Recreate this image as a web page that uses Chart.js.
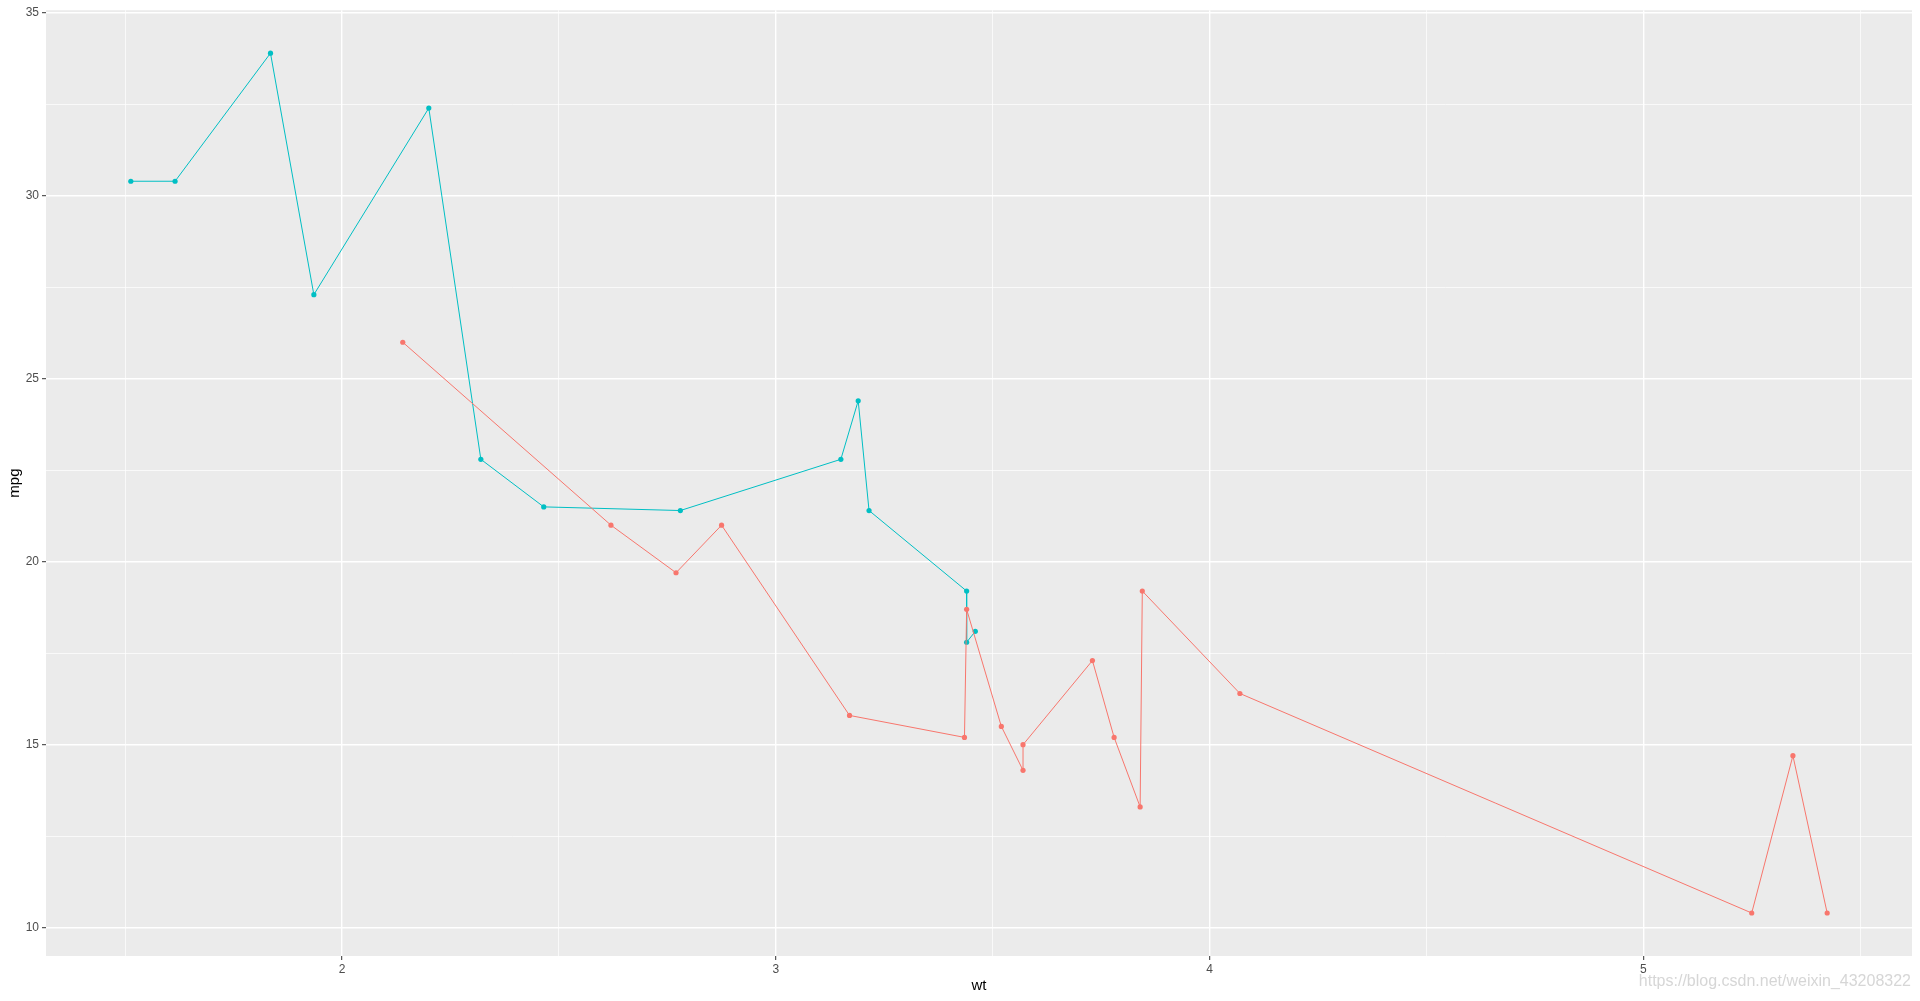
<!DOCTYPE html>
<html>
<head>
<meta charset="utf-8">
<script src="https://cdn.jsdelivr.net/npm/chart.js@4.4.1/dist/chart.umd.min.js"></script>
<style>
  body { margin: 0; background: #fff; overflow: hidden; }
  #wrap { position: relative; width: 1920px; height: 1001px; }
  #mark {
    position: absolute; right: 9px; bottom: 11px;
    font-family: "Liberation Sans", Arial, sans-serif; font-size: 16px;
    color: rgba(212, 212, 212, 0.95);
  }
</style>
</head>
<body>
<div id="wrap">
  <canvas id="plot" width="1920" height="1001"></canvas>
  <div id="mark">https://blog.csdn.net/weixin_43208322</div>
</div>
<script>
// Data (mtcars, sorted by wt within each vs group)
//==============================
var wtVs0 = [2.140, 2.620, 2.770, 2.875, 3.170, 3.435, 3.440, 3.520, 3.570, 3.570, 3.730, 3.780, 3.840, 3.845, 4.070, 5.250, 5.345, 5.424];
var mpgVs0 = [26.0, 21.0, 19.7, 21.0, 15.8, 15.2, 18.7, 15.5, 14.3, 15.0, 17.3, 15.2, 13.3, 19.2, 16.4, 10.4, 14.7, 10.4];
var wtVs1 = [1.513, 1.615, 1.835, 1.935, 2.200, 2.320, 2.465, 2.780, 3.150, 3.190, 3.215, 3.440, 3.440, 3.460];
var mpgVs1 = [30.4, 30.4, 33.9, 27.3, 32.4, 22.8, 21.5, 21.4, 22.8, 24.4, 21.4, 19.2, 17.8, 18.1];

var xMajor = [2, 3, 4, 5];
var xMinor = [1.5, 2.5, 3.5, 4.5, 5.5];
var yMajor = [10, 15, 20, 25, 30, 35];
var yMinor = [12.5, 17.5, 22.5, 27.5, 32.5];

function toPoints(xs, ys) {
  return xs.map(function (x, i) { return { x: x, y: ys[i] }; });
}

function tickList(major, minor) {
  return major.concat(minor).sort(function (a, b) { return a - b; })
    .map(function (v) { return { value: v }; });
}

// ggplot-style 5% expansion
var xLo = Math.min.apply(null, wtVs1), xHi = Math.max.apply(null, wtVs0);
var yLo = Math.min.apply(null, mpgVs0), yHi = Math.max.apply(null, mpgVs1);
var xPad = (xHi - xLo) * 0.05, yPad = (yHi - yLo) * 0.05;

// Plugins
//==============================
var panelBg = {
  id: "panelBg",
  beforeDraw: function (chart) {
    var a = chart.chartArea, ctx = chart.ctx;
    ctx.save();
    ctx.fillStyle = "#EBEBEB";
    ctx.fillRect(a.left, a.top, a.right - a.left, a.bottom - a.top);
    ctx.restore();
  }
};

function gridWidth(major) {
  return function (c) { return c.tick && major.indexOf(c.tick.value) > -1 ? 1.4 : 0.7; };
}
function tickColor(major) {
  return function (c) { return c.tick && major.indexOf(c.tick.value) > -1 ? "#333333" : "rgba(0,0,0,0)"; };
}

var tickFont = { family: "'Liberation Sans', Arial, sans-serif", size: 12 };
var titleFont = { family: "'Liberation Sans', Arial, sans-serif", size: 15 };

// Chart
//==============================
var ctx = document.getElementById("plot");
var mtChart = new Chart(ctx, {
  type: "line",
  data: {
    datasets: [{
      label: "0",
      data: toPoints(wtVs0, mpgVs0),
      borderColor: "#F8766D",
      backgroundColor: "#F8766D",
      borderWidth: 1,
      pointRadius: 2.6,
      pointBorderWidth: 0,
      tension: 0
    }, {
      label: "1",
      data: toPoints(wtVs1, mpgVs1),
      borderColor: "#00BFC4",
      backgroundColor: "#00BFC4",
      borderWidth: 1,
      pointRadius: 2.6,
      pointBorderWidth: 0,
      tension: 0
    }]
  },
  options: {
    responsive: false,
    animation: false,
    layout: { padding: { top: 7, right: 8, left: 0, bottom: 0 } },
    plugins: {
      legend: { display: false },
      tooltip: { enabled: false }
    },
    scales: {
      x: {
        type: "linear",
        min: xLo - xPad,
        max: xHi + xPad,
        afterBuildTicks: function (s) { s.ticks = tickList(xMajor, xMinor); },
        afterFit: function (s) { s.height = 45; },
        border: { display: false },
        grid: {
          color: "#FFFFFF",
          lineWidth: gridWidth(xMajor),
          drawTicks: true,
          tickLength: 4,
          tickWidth: 1,
          tickColor: tickColor(xMajor)
        },
        ticks: {
          autoSkip: false,
          maxRotation: 0,
          padding: 2,
          color: "#4D4D4D",
          font: tickFont,
          callback: function (v) { return xMajor.indexOf(v) > -1 ? v : ""; }
        },
        title: {
          display: true,
          text: "wt",
          color: "#000000",
          font: titleFont,
          padding: { top: 0, bottom: 6 }
        }
      },
      y: {
        type: "linear",
        min: yLo - yPad,
        max: yHi + yPad,
        afterBuildTicks: function (s) { s.ticks = tickList(yMajor, yMinor); },
        afterFit: function (s) { s.width = 46; },
        border: { display: false },
        grid: {
          color: "#FFFFFF",
          lineWidth: gridWidth(yMajor),
          drawTicks: true,
          tickLength: 4,
          tickWidth: 1,
          tickColor: tickColor(yMajor)
        },
        ticks: {
          autoSkip: false,
          padding: 3,
          color: "#4D4D4D",
          font: tickFont,
          callback: function (v) { return yMajor.indexOf(v) > -1 ? v : ""; }
        },
        title: {
          display: true,
          text: "mpg",
          color: "#000000",
          font: titleFont,
          padding: { top: 6, bottom: 0 }
        }
      }
    }
  },
  plugins: [panelBg]
});
</script>
</body>
</html>
